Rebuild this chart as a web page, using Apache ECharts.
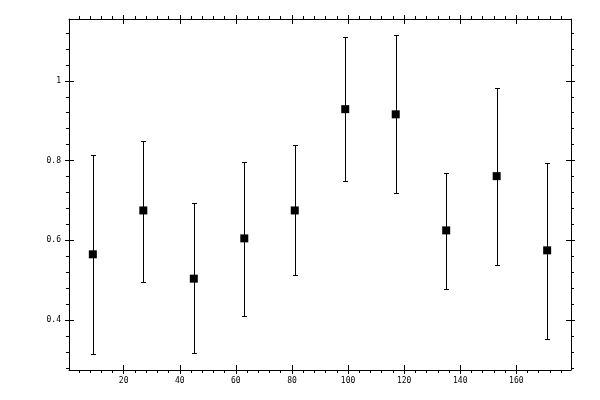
<!DOCTYPE html>
<html>
<head>
<meta charset="utf-8">
<script src="https://cdn.jsdelivr.net/npm/echarts@6/dist/echarts.min.js"></script>
<style>
html,body{margin:0;padding:0;background:#fff;}
#chart{width:600px;height:400px;}
</style>
</head>
<body>
<div id="chart"></div>
<script>
// ---- data ----
var xValues = [9, 27, 45, 63, 81, 99, 117, 135, 153, 171];
var yValues = [0.565, 0.675, 0.504, 0.605, 0.675, 0.929, 0.916, 0.625, 0.761, 0.575];
var yUpper  = [0.813, 0.850, 0.693, 0.797, 0.838, 1.110, 1.114, 0.768, 0.982, 0.793];
var yLower  = [0.316, 0.496, 0.318, 0.411, 0.513, 0.750, 0.719, 0.479, 0.539, 0.353];
var xTickLabels = [20, 40, 60, 80, 100, 120, 140, 160];
var yTickLabels = [0.4, 0.6, 0.8, 1];
var xMinorTicks = [4, 8, 12, 16, 24, 28, 32, 36, 44, 48, 52, 56, 64, 68, 72, 76, 84, 88, 92, 96,
                   104, 108, 112, 116, 124, 128, 132, 136, 144, 148, 152, 156, 164, 168, 172, 176];
var yMinorTicks = [0.28, 0.32, 0.36, 0.44, 0.48, 0.52, 0.56, 0.64, 0.68, 0.72, 0.76,
                   0.84, 0.88, 0.92, 0.96, 1.04, 1.08, 1.12];
var xRange = [0.5, 179.5];
var yRange = [0.275, 1.155];

var chart = echarts.init(document.getElementById('chart'));
var font = 'DejaVu Sans Mono';
var gridRect = {left: 69, top: 19, right: 29, bottom: 30, containLabel: false};

function makeAxis(kind, gridIndex, position, opts) {
  var range = kind === 'x' ? xRange : yRange;
  return {
    type: 'value',
    gridIndex: gridIndex,
    position: position,
    min: range[0],
    max: range[1],
    axisLine: {show: opts.line, lineStyle: {color: '#000', width: 1}},
    axisTick: {
      show: true,
      inside: opts.inside,
      length: opts.len,
      customValues: opts.ticks,
      lineStyle: {color: '#000', width: 1}
    },
    axisLabel: opts.labels ? {
      show: true,
      customValues: opts.ticks,
      color: '#000',
      fontFamily: font,
      fontSize: 8,
      margin: kind === 'x' ? 7 : 8
    } : {show: false},
    splitLine: {show: false},
    minorTick: {show: false},
    z: 5
  };
}

var xAxes = [], yAxes = [];
// grid 0: main axes, outward major ticks, labels
xAxes.push(makeAxis('x', 0, 'bottom', {line: true, inside: false, len: 4, ticks: xTickLabels, labels: true}));
xAxes.push(makeAxis('x', 0, 'top', {line: true, inside: false, len: 4, ticks: xTickLabels, labels: false}));
yAxes.push(makeAxis('y', 0, 'left', {line: true, inside: false, len: 4, ticks: yTickLabels, labels: true}));
yAxes.push(makeAxis('y', 0, 'right', {line: true, inside: false, len: 4, ticks: yTickLabels, labels: false}));
// grid 1: inward major ticks
xAxes.push(makeAxis('x', 1, 'bottom', {line: false, inside: true, len: 5, ticks: xTickLabels, labels: false}));
xAxes.push(makeAxis('x', 1, 'top', {line: false, inside: true, len: 5, ticks: xTickLabels, labels: false}));
yAxes.push(makeAxis('y', 1, 'left', {line: false, inside: true, len: 5, ticks: yTickLabels, labels: false}));
yAxes.push(makeAxis('y', 1, 'right', {line: false, inside: true, len: 5, ticks: yTickLabels, labels: false}));
// grid 2: outward minor ticks
xAxes.push(makeAxis('x', 2, 'bottom', {line: false, inside: false, len: 3, ticks: xMinorTicks, labels: false}));
xAxes.push(makeAxis('x', 2, 'top', {line: false, inside: false, len: 3, ticks: xMinorTicks, labels: false}));
yAxes.push(makeAxis('y', 2, 'left', {line: false, inside: false, len: 3, ticks: yMinorTicks, labels: false}));
yAxes.push(makeAxis('y', 2, 'right', {line: false, inside: false, len: 3, ticks: yMinorTicks, labels: false}));

var errData = xValues.map(function (x, i) { return [x, yLower[i], yUpper[i]]; });
var ptData = xValues.map(function (x, i) { return [x, yValues[i]]; });

chart.setOption({
  animation: false,
  backgroundColor: '#fff',
  grid: [gridRect, gridRect, gridRect],
  xAxis: xAxes,
  yAxis: yAxes,
  series: [
    {
      type: 'custom',
      xAxisIndex: 0,
      yAxisIndex: 0,
      data: errData,
      renderItem: function (params, api) {
        var x = api.value(0);
        var lo = api.coord([x, api.value(1)]);
        var hi = api.coord([x, api.value(2)]);
        var cx = Math.round(lo[0]) + 0.5;
        var yl = Math.round(lo[1]) + 0.5;
        var yh = Math.round(hi[1]) + 0.5;
        var w = 2.5;
        var style = {stroke: '#000', lineWidth: 1};
        return {
          type: 'group',
          children: [
            {type: 'line', shape: {x1: cx, y1: yh, x2: cx, y2: yl}, style: style},
            {type: 'line', shape: {x1: cx - w, y1: yh, x2: cx + w, y2: yh}, style: style},
            {type: 'line', shape: {x1: cx - w, y1: yl, x2: cx + w, y2: yl}, style: style}
          ]
        };
      },
      z: 2
    },
    {
      type: 'scatter',
      xAxisIndex: 0,
      yAxisIndex: 0,
      data: ptData,
      symbol: 'rect',
      symbolSize: 8,
      itemStyle: {color: '#000', opacity: 1},
      emphasis: {disabled: true},
      z: 3
    }
  ]
});
</script>
</body>
</html>
